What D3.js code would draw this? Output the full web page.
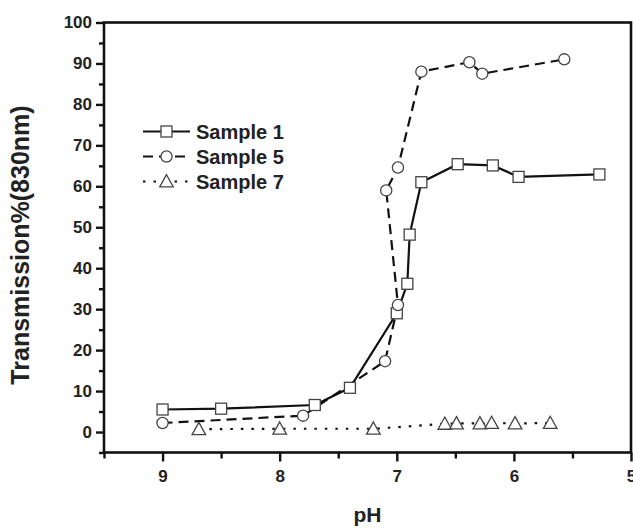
<!DOCTYPE html>
<html>
<head>
<meta charset="utf-8">
<script src="https://cdn.jsdelivr.net/npm/d3@7"></script>
<style>
html,body{margin:0;padding:0;background:#fff;}
svg{display:block;}
text{font-family:"Liberation Sans",Arial,sans-serif;font-weight:bold;fill:#222;}
</style>
</head>
<body>
<svg id="chart" width="633" height="528"></svg>
<script>
// ---- data ----
const sample1pH  = [9.0, 8.5, 7.7, 7.4, 7.0, 6.91, 6.89, 6.79, 6.48, 6.18, 5.96, 5.27];
const sample1T   = [5.5, 5.7, 6.6, 10.8, 29.0, 36.2, 48.2, 61.0, 65.4, 65.1, 62.3, 62.9];
const sample5pH  = [9.0, 7.8, 7.1, 6.99, 7.09, 6.99, 6.79, 6.38, 6.27, 5.57];
const sample5T   = [2.2, 4.0, 17.3, 31.0, 59.0, 64.6, 88.0, 90.3, 87.5, 91.0];
const sample7pH  = [8.69, 8.0, 7.2, 6.59, 6.49, 6.29, 6.19, 5.99, 5.69];
const sample7T   = [0.7, 0.8, 0.8, 2.0, 2.1, 2.1, 2.2, 2.1, 2.2];
const seriesNames = ["Sample 1", "Sample 5", "Sample 7"];
const xTickLabels = [9, 8, 7, 6, 5];
const xMinorTicks = [9.5, 8.5, 7.5, 6.5, 5.5];
const yTickLabels = [0, 10, 20, 30, 40, 50, 60, 70, 80, 90, 100];
const yMinorTicks = [-5, 5, 15, 25, 35, 45, 55, 65, 75, 85, 95];
const xTitle = "pH";
const yTitle = "Transmission%(830nm)";

// ---- layout ----
const svg = d3.select("#chart");
const L = 104, R = 631, T = 22.5, B = 452.5;
const x = d3.scaleLinear().domain([9.5, 5]).range([L, R]);
const y = d3.scaleLinear().domain([-5, 100]).range([B, T]);

const axisColor = "#111";
svg.append("rect").attr("x", L).attr("y", T).attr("width", R - L).attr("height", B - T)
  .attr("fill", "none").attr("stroke", axisColor).attr("stroke-width", 2.6);

const yAxis = svg.append("g").attr("transform", `translate(${L},0)`)
  .call(d3.axisLeft(y).tickValues(yTickLabels).tickSize(8).tickPadding(4).tickFormat(d3.format("d")));
const yMinor = svg.append("g").attr("transform", `translate(${L},0)`)
  .call(d3.axisLeft(y).tickValues(yMinorTicks).tickSize(5).tickFormat(""));
const xAxis = svg.append("g").attr("transform", `translate(0,${B})`)
  .call(d3.axisBottom(x).tickValues(xTickLabels).tickSize(9).tickPadding(8).tickFormat(d3.format("d")));
const xMinor = svg.append("g").attr("transform", `translate(0,${B})`)
  .call(d3.axisBottom(x).tickValues(xMinorTicks).tickSize(6).tickFormat(""));

[yAxis, yMinor, xAxis, xMinor].forEach(g => {
  g.select(".domain").remove();
  g.selectAll(".tick line").attr("stroke", axisColor).attr("stroke-width", 2.4);
  g.selectAll(".tick text").attr("font-size", 17).attr("font-family", "Liberation Sans, Arial, sans-serif")
    .attr("font-weight", "bold").attr("fill", "#222");
});

svg.append("text").attr("x", (L + R) / 2).attr("y", 522).attr("text-anchor", "middle")
  .attr("font-size", 21).text(xTitle);
svg.append("text").attr("transform", `translate(29,245) rotate(-90)`)
  .attr("text-anchor", "middle").attr("font-size", 25).text(yTitle);

// ---- series ----
const styles = [
  {pH: sample1pH, T: sample1T, dash: null, sym: "square"},
  {pH: sample5pH, T: sample5T, dash: "10,6", sym: "circle"},
  {pH: sample7pH, T: sample7T, dash: "2.5,8", sym: "triangle"}
];
const line = d3.line().x(d => x(d[0])).y(d => y(d[1]));
const symStroke = "#444";

function drawSymbol(g, type, cx, cy) {
  if (type === "square") {
    g.append("rect").attr("x", cx - 5.5).attr("y", cy - 5.5).attr("width", 11).attr("height", 11)
      .attr("fill", "#fff").attr("stroke", symStroke).attr("stroke-width", 1.3);
  } else if (type === "circle") {
    g.append("circle").attr("cx", cx).attr("cy", cy).attr("r", 5.6)
      .attr("fill", "#fff").attr("stroke", symStroke).attr("stroke-width", 1.3);
  } else {
    const s = 6.8;
    g.append("path").attr("d", `M${cx},${cy - s}L${cx + s},${cy + s * 0.8}L${cx - s},${cy + s * 0.8}Z`)
      .attr("fill", "#fff").attr("stroke", symStroke).attr("stroke-width", 1.3);
  }
}

styles.forEach(s => {
  const pts = s.pH.map((p, i) => [p, s.T[i]]);
  svg.append("path").datum(pts).attr("d", line).attr("fill", "none")
    .attr("stroke", "#111").attr("stroke-width", 2.2)
    .attr("stroke-dasharray", s.dash);
});
styles.forEach(s => {
  const g = svg.append("g");
  s.pH.forEach((p, i) => drawSymbol(g, s.sym, x(p), y(s.T[i])));
});

// ---- legend ----
const legY = [131.5, 156.5, 181.5];
styles.forEach((s, i) => {
  const g = svg.append("g");
  g.append("line").attr("x1", 143).attr("x2", 190).attr("y1", legY[i]).attr("y2", legY[i])
    .attr("stroke", "#111").attr("stroke-width", 2.2).attr("stroke-dasharray", s.dash);
  drawSymbol(g, s.sym, 166.5, legY[i]);
  g.append("text").attr("x", 196).attr("y", legY[i] + 7).attr("font-size", 20).text(seriesNames[i]);
});
</script>
</body>
</html>
